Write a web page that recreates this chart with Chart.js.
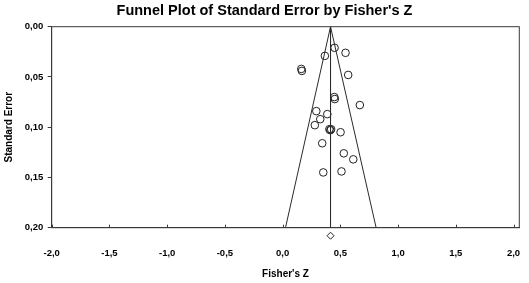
<!DOCTYPE html>
<html>
<head>
<meta charset="utf-8">
<script src="https://cdn.jsdelivr.net/npm/chart.js@4/dist/chart.umd.min.js"></script>
<style>
  html, body { margin: 0; padding: 0; background: #fff; }
</style>
</head>
<body>
<canvas id="funnelChart" width="529" height="283"></canvas>
<script>
// Datos
const xTicks = [-2, -1.5, -1, -0.5, 0, 0.5, 1, 1.5, 2];
const yTicks = [0, 0.05, 0.1, 0.15, 0.2];

const studyZ  = [0.45, 0.545, 0.366, 0.162, 0.167, 0.568, 0.448, 0.452, 0.669, 0.292, 0.387,
                 0.326, 0.279, 0.405, 0.42, 0.413, 0.502, 0.343, 0.53, 0.612, 0.352, 0.51];
const studySE = [0.021, 0.026, 0.029, 0.042, 0.044, 0.048, 0.070, 0.072, 0.078, 0.084, 0.087,
                 0.092, 0.098, 0.102, 0.102, 0.103, 0.105, 0.116, 0.126, 0.132, 0.145, 0.144];

const meanZ = [0.415, 0.415];
const lineSE = [0, 0.2];
const funnelLeftZ = [0.415, 0.025];
const funnelRightZ = [0.415, 0.81];

// rombo del efecto combinado (debajo del eje)
const summaryZ = [0.415];
const summarySE = [0.208];

const pts = (xs, ys) => xs.map((x, i) => ({ x: x, y: ys[i] }));
const comma = (v, d) => v.toFixed(d).replace('.', ',');

const axisColor = '#3a3a3a';
const tickFont = { family: 'Liberation Sans, Arial, sans-serif', size: 9.5, weight: 'bold' };

// marco, ticks del eje X hacia dentro y rombo fuera del área
const extras = {
    id: 'extras',
    afterDraw(chart) {
        const { ctx, chartArea } = chart;
        const xs = chart.scales.x;
        const ys = chart.scales.y;
        ctx.save();
        ctx.strokeStyle = axisColor;
        ctx.lineWidth = 1;
        ctx.strokeRect(chartArea.left, chartArea.top, chartArea.right - chartArea.left, chartArea.bottom - chartArea.top);
        xs.ticks.forEach(t => {
            const px = Math.round(xs.getPixelForValue(t.value)) + 0.5;
            ctx.beginPath();
            ctx.moveTo(px, chartArea.bottom);
            ctx.lineTo(px, chartArea.bottom - 3);
            ctx.stroke();
        });
        ctx.fillStyle = '#fff';
        ctx.strokeStyle = '#222';
        summaryZ.forEach((z, i) => {
            Chart.helpers.drawPoint(ctx, { pointStyle: 'rectRot', radius: 3.5, borderWidth: 1 },
                xs.getPixelForValue(z), ys.getPixelForValue(summarySE[i]));
        });
        ctx.restore();
    }
};

const lineStyle = {
    showLine: true,
    borderColor: '#2a2a2a',
    borderWidth: 1,
    pointRadius: 0,
    fill: false
};

new Chart(document.getElementById('funnelChart').getContext('2d'), {
    type: 'scatter',
    data: {
        datasets: [
            Object.assign({ label: 'left', data: pts(funnelLeftZ, lineSE) }, lineStyle),
            Object.assign({ label: 'right', data: pts(funnelRightZ, lineSE) }, lineStyle),
            Object.assign({ label: 'mean', data: pts(meanZ, lineSE) }, lineStyle),
            {
                label: 'studies',
                data: pts(studyZ, studySE),
                pointStyle: 'circle',
                pointRadius: 3.8,
                pointBorderWidth: 1,
                pointBorderColor: '#222',
                pointBackgroundColor: 'rgba(0,0,0,0)'
            }
        ]
    },
    options: {
        responsive: false,
        animation: false,
        layout: { padding: 0 },
        plugins: {
            legend: { display: false },
            tooltip: { enabled: false },
            title: {
                display: true,
                text: "Funnel Plot of Standard Error by Fisher's Z",
                color: '#000',
                font: { family: 'Liberation Sans, Arial, sans-serif', size: 14.5, weight: 'bold' },
                padding: { top: 2, bottom: 7.3 }
            }
        },
        scales: {
            x: {
                type: 'linear',
                min: -2,
                max: 2.05,
                afterBuildTicks: s => { s.ticks = xTicks.map(v => ({ value: v })); },
                afterFit: s => { s.height = 55.3; s.paddingLeft = 0; s.paddingRight = 9.7; },
                grid: { drawOnChartArea: false, drawTicks: false },
                border: { display: true, color: axisColor, width: 1 },
                ticks: {
                    padding: 19.6,
                    color: '#000',
                    font: tickFont,
                    maxRotation: 0,
                    callback: v => comma(v, 1)
                },
                title: {
                    display: true,
                    text: "Fisher's Z",
                    color: '#000',
                    font: { family: 'Liberation Sans, Arial, sans-serif', size: 10, weight: 'bold' },
                    padding: { top: 0, bottom: 3 }
                }
            },
            y: {
                type: 'linear',
                reverse: true,
                min: 0,
                max: 0.2,
                afterBuildTicks: s => { s.ticks = yTicks.map(v => ({ value: v })); },
                afterFit: s => { s.width = 51.7; },
                grid: { drawOnChartArea: false, drawTicks: true, tickLength: 4, color: axisColor },
                border: { display: true, color: axisColor, width: 1 },
                ticks: {
                    padding: 4.5,
                    color: '#000',
                    font: tickFont,
                    callback: v => comma(v, 2)
                },
                title: {
                    display: true,
                    text: 'Standard Error',
                    color: '#000',
                    font: { family: 'Liberation Sans, Arial, sans-serif', size: 10, weight: 'bold' },
                    padding: { top: 3.5, bottom: 0 }
                }
            }
        }
    },
    plugins: [extras]
});
</script>
</body>
</html>
